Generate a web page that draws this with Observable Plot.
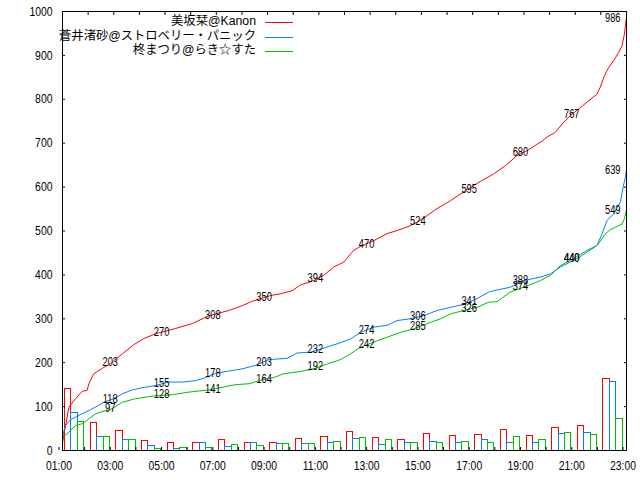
<!DOCTYPE html>
<html><head><meta charset="utf-8">
<script src="https://cdn.jsdelivr.net/npm/d3@7"></script>
<script src="https://cdn.jsdelivr.net/npm/@observablehq/plot@0.6"></script>
<style>
body{margin:0;background:#fff;}
#wrap{position:relative;width:640px;height:480px;}
.lgt{position:absolute;right:384px;white-space:nowrap;font-size:12.3px;line-height:14px;font-family:"Liberation Sans","Noto Sans CJK JP",sans-serif;color:#000;}
.lgl{position:absolute;left:265px;width:28px;height:1px;}
</style></head><body><div id="wrap"></div>
<script>
// series
const seriesNames = ["美坂栞@Kanon", "蒼井渚砂@ストロベリー・パニック", "柊まつり@らき☆すた"];
const seriesColors = ["#ff0000", "#0080ff", "#00c000"];

// hourly counts (bars), hour 01..22
const barHours = [1,2,3,4,5,6,7,8,9,10,11,12,13,14,15,16,17,18,19,20,21,22];
const redBars   = [140,63,45,22,16,18,24,18,16,27,31,43,29,24,38,33,36,47,33,52,56,163];
const blueBars  = [86,31,24,11,4,18,9,16,14,15,16,27,13,17,20,16,24,17,17,38,40,156];
const greenBars = [65,31,24,4,6,6,13,11,14,15,20,29,24,17,17,20,17,31,24,40,36,72];

// cumulative lines (time in hours, value)
const redT = [1.00,1.05,1.25,1.51,1.77,1.96,2.03,2.22,2.55,2.87,3.33,3.78,4.17,4.63,5.41,6.06,6.71,7.49,8.01,8.40,9.11,9.50,9.96,10.28,10.80,11.19,11.58,11.97,12.36,12.69,13.14,13.66,14.05,14.44,14.83,15.22,15.61,16.13,16.80,17.30,17.82,18.28,18.73,19.12,19.71,19.90,20.23,20.49,20.81,21.20,21.53,21.85,21.98,22.14,22.31,22.50,22.70,22.83,22.92,22.96,23.00];
const redV = [20,34,99,118,135,137,152,175,187,198,220,241,255,266,278,289,307,319,330,340,353,357,364,377,387,399,418,429,456,467,478,494,501,509,520,535,551,569,595,613,630,649,672,683,705,714,725,744,763,781,797,812,828,854,873,888,907,923,949,968,986];
const blueT = [1.00,1.03,1.12,1.31,1.51,1.77,2.03,2.29,2.61,3.00,3.33,3.72,4.11,4.63,5.15,5.67,6.19,6.58,6.97,7.49,8.01,8.53,9.05,9.76,10.15,10.67,11.19,11.71,12.23,12.62,13.14,13.66,14.05,14.57,15.09,15.61,16.13,16.65,17.17,17.63,17.82,18.47,18.99,19.64,20.03,20.42,21.07,21.46,21.85,22.05,22.24,22.50,22.76,22.87,22.96,23.00];
const blueV = [25,40,57,70,76,84,91,99,110,118,129,138,143,148,156,156,159,166,176,181,186,194,207,210,222,224,233,243,254,269,281,285,296,300,307,319,326,333,346,361,364,372,387,395,402,418,437,452,467,494,524,539,566,600,623,639];
const greenT = [1.00,1.02,1.25,1.51,1.77,2.03,2.29,2.68,2.94,3.33,3.85,4.50,5.28,5.93,6.71,7.23,7.75,8.27,8.79,9.24,9.63,10.28,10.80,11.32,11.84,12.23,12.62,13.14,13.66,14.18,14.70,15.22,15.74,16.13,16.65,17.17,17.63,17.95,18.47,18.99,19.64,20.03,20.42,20.94,21.46,21.85,22.18,22.37,22.83,22.92,23.00];
const greenV = [12,30,42,57,61,72,84,91,95,110,118,124,127,133,138,144,150,152,161,166,175,180,186,197,207,220,235,247,258,269,277,289,300,311,319,326,338,339,361,372,387,399,421,437,456,467,494,503,516,528,549];

// value labels
const labelHours  = [3,5,7,9,11,13,15,17,19,21,22.6];
const redLabels   = [203,270,308,350,394,470,524,595,680,767,986];
const blueLabels  = [118,155,178,203,232,274,306,341,388,440,639];
const greenLabels = [97,128,141,164,192,242,285,326,374,440,549];

// axis ticks
const hourTicks = d3.range(1, 24);
const valueTicks = d3.range(0, 1001, 100);

const barSets = [redBars, blueBars, greenBars];
const bars = barSets.flatMap((vals, j) => barHours.map((h, i) => ({h, j, v: vals[i]})));
const lineSets = [[redT, redV], [blueT, blueV], [greenT, greenV]];
const lines = lineSets.map(([T, V]) => T.map((t, i) => ({t, v: V[i]})));
const labels = [redLabels, blueLabels, greenLabels].flatMap(L => L.map((v, i) => ({t: labelHours[i], v})));

const font = '"Liberation Sans",sans-serif';
const fmtHour = d => d % 2 ? String(d).padStart(2, "0") + ":00" : "";

const chart = Plot.plot({
  width: 640, height: 480,
  marginLeft: 62, marginRight: 14, marginTop: 11, marginBottom: 30,
  style: {fontFamily: font, fontSize: "13px", background: "#fff", color: "#000"},
  x: {type: "linear", domain: [1, 23]},
  y: {domain: [0, 1000]},
  marks: [
    Plot.rect(bars, {
      x1: d => d.h + 0.1 + d.j * 0.25,
      x2: d => d.h + 0.35 + d.j * 0.25,
      y1: d => 0, y2: "v",
      fill: "none", stroke: d => seriesColors[d.j], strokeWidth: 1, shapeRendering: "crispEdges"
    }),
    ...lines.map((data, j) => Plot.line(data, {x: "t", y: "v", stroke: seriesColors[j], strokeWidth: 1})),
    Plot.text(labels, {x: "t", y: "v", text: d => String(d.v), dx: -3.5, fill: "#000", fontSize: 13, className: "vlabel"}),
    Plot.axisX({ticks: hourTicks, tickSize: -3, tickPadding: 13, tickFormat: fmtHour, label: null, dx: -3.5, fontSize: 13}),
    Plot.axisX({anchor: "top", ticks: hourTicks, tickSize: -3, tickFormat: () => "", label: null}),
    Plot.axisY({ticks: valueTicks, tickSize: -3, tickPadding: 13, tickFormat: d => String(d), label: null, fontSize: 13}),
    Plot.axisY({anchor: "right", ticks: valueTicks, tickSize: -3, tickFormat: () => "", label: null}),
    Plot.frame({stroke: "#000", strokeWidth: 1})
  ]
});
const wrap = document.getElementById("wrap");
wrap.appendChild(chart);

// narrow the numeric glyphs, like the reference's condensed bitmap font
chart.querySelectorAll("text").forEach(t => {
  const w = t.getComputedTextLength();
  if (!w) return;
  const k = t.closest(".vlabel") ? 0.72 : 0.8;
  t.setAttribute("textLength", (w * k).toFixed(1));
  t.setAttribute("lengthAdjust", "spacingAndGlyphs");
});

// legend (top right inside the plot)
const legendY = [22, 37, 51];
seriesNames.forEach((name, j) => {
  const t = document.createElement("div");
  t.className = "lgt";
  t.style.top = (legendY[j] - 8) + "px";
  t.textContent = name;
  wrap.appendChild(t);
  const l = document.createElement("div");
  l.className = "lgl";
  l.style.top = legendY[j] + "px";
  l.style.background = seriesColors[j];
  wrap.appendChild(l);
});
</script></body></html>
